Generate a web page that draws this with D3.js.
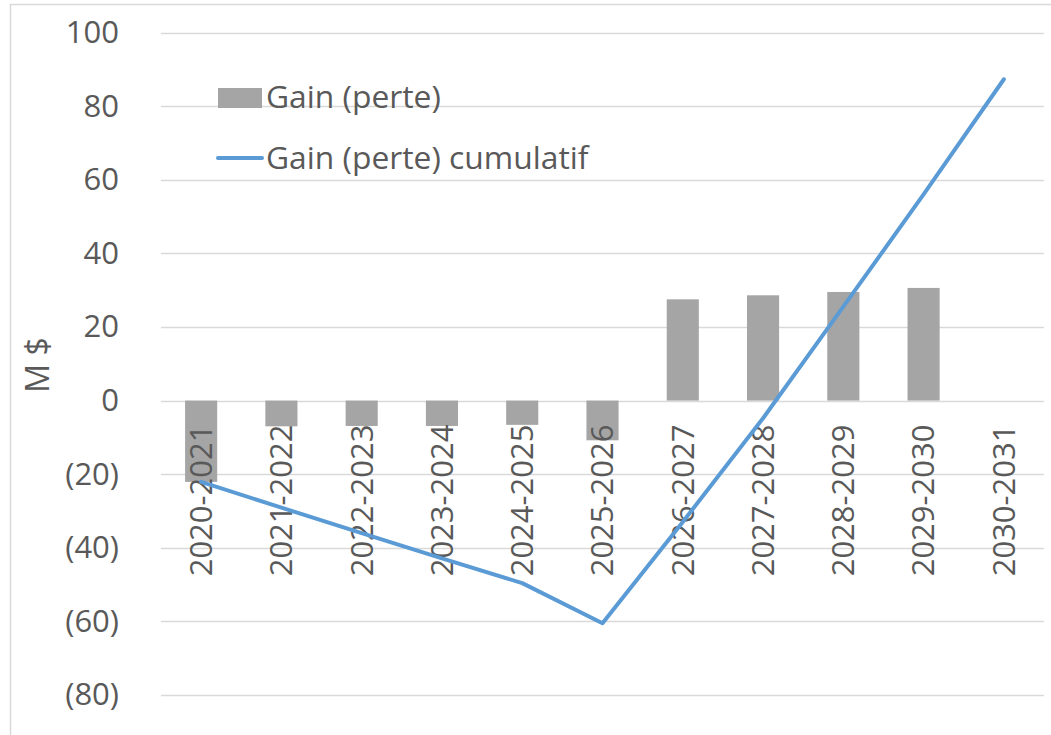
<!DOCTYPE html>
<html><head><meta charset="utf-8">
<script src="https://cdn.jsdelivr.net/npm/d3@7"></script>
<style>
html,body{margin:0;padding:0;background:#fff;}
svg{display:block;}
text{font-family:"Open Sans",sans-serif;fill:#595959;}
</style></head>
<body>
<svg id="chart" width="1051" height="735"></svg>
<script>
const categories = ["2020-2021","2021-2022","2022-2023","2023-2024","2024-2025","2025-2026","2026-2027","2027-2028","2028-2029","2029-2030","2030-2031"];
const gains = [-22.1, -7.0, -6.9, -6.9, -6.6, -10.8, 27.5, 28.6, 29.5, 30.6, null];
const cumulative = [-22.1, -29.1, -36.0, -42.9, -49.6, -60.5, -33.0, -4.8, 25.5, 56.0, 87.3];
const yTicks = [100, 80, 60, 40, 20, 0, -20, -40, -60, -80];
const seriesNames = ["Gain (perte)", "Gain (perte) cumulatif"];
const yTitle = "M $";

const svg = d3.select("#chart");
const W = 1051, H = 735;
const left = 161, right = 1044;
const x = d3.scaleBand().domain(categories).range([left, right]).paddingInner(0.6).paddingOuter(0.3);
const y = d3.scaleLinear().domain([-80, 100]).range([695, 32.5]);
const fmt = v => v < 0 ? "(" + Math.abs(v) + ")" : String(v);

// outer border (cropped chart frame)
svg.append("path").attr("d", `M10.5,${H} V4.5 H${W}`).attr("fill","none").attr("stroke","#d9d9d9").attr("stroke-width",1.5);

// gridlines
svg.append("g").selectAll("line").data(yTicks).join("line")
  .attr("x1", left).attr("x2", right)
  .attr("y1", d => Math.round(y(d)) + 0.5).attr("y2", d => Math.round(y(d)) + 0.5)
  .attr("stroke", "#d9d9d9").attr("stroke-width", 1.3);

// y axis labels
const yAxis = d3.axisLeft(y).tickValues(yTicks).tickFormat(fmt).tickSize(0).tickPadding(0);
const gy = svg.append("g").attr("transform", "translate(119,0)").call(yAxis);
gy.select(".domain").remove();
gy.selectAll("text").attr("font-size", 31).attr("fill", "#595959").style("font-family", "'Open Sans',sans-serif");

// y title
svg.append("text").attr("transform", "translate(49,365) rotate(-90)").attr("text-anchor", "middle")
  .attr("font-size", 32).text(yTitle);

// bars
const barData = categories.map((c, i) => ({c, v: gains[i]})).filter(d => d.v !== null);
svg.append("g").selectAll("rect").data(barData).join("rect")
  .attr("x", d => x(d.c)).attr("width", x.bandwidth())
  .attr("y", d => y(Math.max(0, d.v))).attr("height", d => Math.abs(y(d.v) - y(0)))
  .attr("fill", "#a5a5a5");

// x axis labels (rotated)
const xAxis = d3.axisBottom(x).tickSize(0).tickPadding(0);
const gx = svg.append("g").attr("transform", `translate(0,${y(0)})`).call(xAxis);
gx.select(".domain").remove();
gx.selectAll("text")
  .attr("font-size", 31).attr("fill", "#595959").style("font-family", "'Open Sans',sans-serif")
  .attr("text-anchor", "end").attr("dy", "0.35em")
  .attr("transform", "translate(0,24) rotate(-90)")
  .attr("x", 0).attr("y", 0);

// cumulative line
const line = d3.line().x((d, i) => x(categories[i]) + x.bandwidth() / 2).y(d => y(d));
svg.append("path").datum(cumulative).attr("d", line)
  .attr("fill", "none").attr("stroke", "#5b9bd5").attr("stroke-width", 4)
  .attr("stroke-linejoin", "round").attr("stroke-linecap", "round");

// legend
const lg = svg.append("g");
lg.append("rect").attr("x", 218).attr("y", 88).attr("width", 44).attr("height", 20).attr("fill", "#a5a5a5");
lg.append("text").attr("x", 266).attr("y", 108).attr("font-size", 31.8).text(seriesNames[0]);
lg.append("line").attr("x1", 218).attr("x2", 262).attr("y1", 158).attr("y2", 158)
  .attr("stroke", "#5b9bd5").attr("stroke-width", 4).attr("stroke-linecap", "round");
lg.append("text").attr("x", 266).attr("y", 169).attr("font-size", 31.8).text(seriesNames[1]);
</script>
</body></html>
